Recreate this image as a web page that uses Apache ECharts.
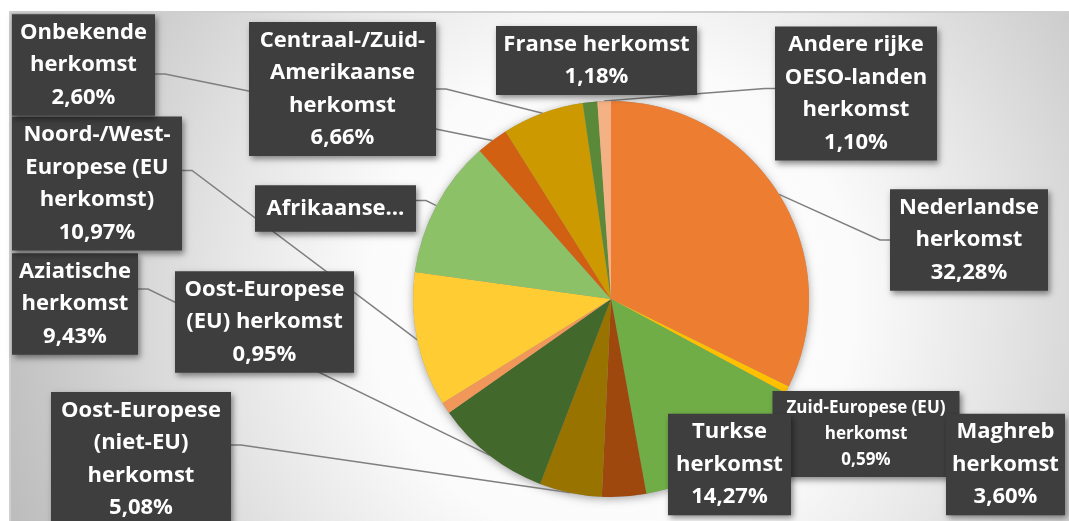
<!DOCTYPE html>
<html><head><meta charset="utf-8">
<script src="https://cdn.jsdelivr.net/npm/echarts@6/dist/echarts.min.js"></script>
<style>html,body{margin:0;padding:0;background:#fff}#c{width:1069px;height:521px}</style>
</head><body><div id="c"></div>
<script>
// ---- data ----
const categories = [
  'Nederlandse herkomst',
  'Zuid-Europese (EU) herkomst',
  'Turkse herkomst',
  'Maghreb herkomst',
  'Oost-Europese (niet-EU) herkomst',
  'Aziatische herkomst',
  'Oost-Europese (EU) herkomst',
  'Noord-/West-Europese (EU herkomst)',
  'Afrikaanse herkomst',
  'Onbekende herkomst',
  'Centraal-/Zuid-Amerikaanse herkomst',
  'Franse herkomst',
  'Andere rijke OESO-landen herkomst'
];
const values = [32.28, 0.59, 14.27, 3.60, 5.08, 9.43, 0.95, 10.97, 11.29, 2.60, 6.66, 1.18, 1.10];
const labelTexts = [
  'Nederlandse\nherkomst',
  'Zuid-Europese (EU)\nherkomst',
  'Turkse\nherkomst',
  'Maghreb\nherkomst',
  'Oost-Europese\n(niet-EU)\nherkomst',
  'Aziatische\nherkomst',
  'Oost-Europese\n(EU) herkomst',
  'Noord-/West-\nEuropese (EU\nherkomst)',
  'Afrikaanse…',
  'Onbekende\nherkomst',
  'Centraal-/Zuid-\nAmerikaanse\nherkomst',
  'Franse herkomst',
  'Andere rijke\nOESO-landen\nherkomst'
];
const valueShown = [true, true, true, true, true, true, true, true, false, true, true, true, true];

// ---- style ----
const colors = ['#ED7D31', '#FFC000', '#70AD47', '#9E480E', '#997300', '#43682B', '#F1975A',
                '#FFCD33', '#8CC168', '#D26012', '#CC9A00', '#5A8A39', '#F4B183'];
// label box centre x, centre y, box width
const labelBoxes = [
  [969, 240, 158], [866, 434, 187], [729.5, 464.5, 123], [1005.5, 464.5, 119],
  [141, 459, 180], [75, 304, 126], [264.5, 322, 179], [97, 183.5, 170],
  [335.5, 208.5, 161], [83.5, 65, 143], [342.5, 89, 187], [596.5, 60.5, 201], [856, 93.5, 162]
];
const lineShown = [true, false, false, false, true, true, false, true, true, true, true, false, true];
// vertical offset of leader-line attachment relative to the box centre
const lineAttachDy = [0, 0, 0, 0, -14, -15, 0, -13, -8, 9, 0, 0, -5];
const fmt = v => v.toFixed(2).replace('.', ',') + '%';

const chart = echarts.init(document.getElementById('c'), null, {renderer: 'canvas'});
const CENTER = [611, 299], RADIUS = 198;

const data = categories.map((name, i) => {
  const lab = { width: labelBoxes[i][2] - 16, overflow: 'none' };
  if (i === 1) { lab.fontSize = 17; lab.lineHeight = 26; lab.padding = [4, 8]; }
  if (i === 8) { lab.padding = [7, 8]; }
  return {
    name: name, value: values[i],
    itemStyle: { color: colors[i] },
    label: lab,
    labelLine: { show: lineShown[i] }
  };
});

const bgGrad = new echarts.graphic.RadialGradient(611, 299, 640, [
  { offset: 0, color: '#ffffff' },
  { offset: 0.38, color: '#fbfbfb' },
  { offset: 0.6, color: '#e6e6e6' },
  { offset: 1, color: '#bcbcbc' }
], true);

chart.setOption({
  animation: false,
  backgroundColor: '#ffffff',
  graphic: { elements: [{
    type: 'rect', z: -10, silent: true,
    shape: { x: 10, y: 12, width: 1070, height: 520 },
    style: { fill: bgGrad, stroke: '#cfcfcf', lineWidth: 2 }
  }]},
  series: [
    {
      type: 'pie', z: 1, silent: true,
      center: CENTER, radius: RADIUS, startAngle: 90, clockwise: true,
      data: values.map(v => ({ value: v })),
      itemStyle: { color: '#9a9a9a', shadowBlur: 8, shadowOffsetY: 2, shadowColor: 'rgba(0,0,0,0.35)' },
      label: { show: false }, labelLine: { show: false }
    },
    {
      type: 'pie', z: 2,
      center: CENTER, radius: RADIUS, startAngle: 90, clockwise: true,
      avoidLabelOverlap: false,
      itemStyle: { borderWidth: 0 },
      emphasis: { disabled: true },
      data: data,
      label: {
        show: true, position: 'outside', overflow: 'none',
        formatter: p => labelTexts[p.dataIndex] + (valueShown[p.dataIndex] ? '\n' + fmt(values[p.dataIndex]) : ''),
        color: '#ffffff', fontFamily: '"Open Sans", sans-serif', fontWeight: 'bold',
        fontSize: 22, lineHeight: 32.5, align: 'center',
        backgroundColor: '#3e3e3e', padding: [2, 8],
        shadowColor: 'rgba(0,0,0,0.45)', shadowBlur: 6, shadowOffsetX: 2, shadowOffsetY: 3
      },
      labelLine: { show: true, lineStyle: { color: '#7f7f7f', width: 1.5 } },
      labelLayout: function (params) {
        const i = params.dataIndex;
        const b = labelBoxes[i];
        const w = params.labelRect.width;
        const res = { x: b[0], y: b[1], align: 'center', verticalAlign: 'middle' };
        if (lineShown[i] && params.labelLinePoints) {
          const p0 = params.labelLinePoints[0];
          const toRight = b[0] > p0[0];
          const sx = toRight ? b[0] - w / 2 : b[0] + w / 2;
          const bx = toRight ? sx - 10 : sx + 10;
          const ay = b[1] + lineAttachDy[i];
          res.labelLinePoints = [[p0[0], p0[1]], [bx, ay], [sx, ay]];
        }
        return res;
      }
    }
  ]
});
</script>
</body></html>
